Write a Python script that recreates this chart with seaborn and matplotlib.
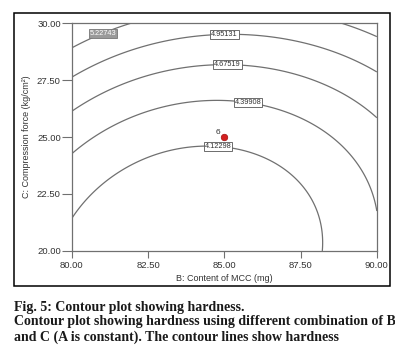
import numpy as np
import pandas as pd
import seaborn as sns
from matplotlib import pyplot as plt
from matplotlib.patches import Rectangle

# contour levels (hardness) as printed on the plot
levels = [4.12298, 4.39908, 4.67519, 4.95131, 5.22743]

# points: B (mg), C (kg/cm2), hardness
pts_b = [80.0, 83.2, 84.7, 86.8, 88.03, 88.2,
         80.0, 81.3, 83.2, 85.8, 86.8, 88.3, 88.85, 89.54, 90.0,
         80.0, 83.2, 85.1, 86.8, 87.9, 90.0,
         80.0, 83.2, 85.0, 86.8, 87.9, 90.0,
         80.0, 81.0, 82.07, 88.95, 89.5, 90.0]
pts_c = [21.45, 24.3, 24.6, 23.86, 21.93, 20.0,
         24.34, 25.3, 26.36, 26.7, 26.27, 25.31, 24.65, 23.1, 22.0,
         26.18, 27.94, 28.35, 28.03, 27.06, 25.96,
         27.63, 29.15, 29.6, 29.25, 28.9, 27.94,
         28.9, 29.6, 30.0, 30.0, 29.7, 29.39]
pts_h = [levels[0]] * 6 + [levels[1]] * 9 + [levels[2]] * 6 + [levels[3]] * 6 + [levels[4]] * 6

# label positions for the contour values
label_b = [81.0, 85.0, 85.1, 85.8, 84.8]
label_c = [29.62, 29.7, 28.35, 26.7, 24.72]

# design point
point_b = [85.0]
point_c = [25.0]
point_name = ["6"]

b_ticks = [80.0, 82.5, 85.0, 87.5, 90.0]
c_ticks = [20.0, 22.5, 25.0, 27.5, 30.0]


def terms(x, y):
    return [np.ones_like(x), x, y, x * x, y * y, x * y,
            x * y * y, x * x * y, x ** 3, y ** 3]


# cubic response surface fitted to the read contour points (coded units)
df = pd.DataFrame({"B": pts_b, "C": pts_c, "H": pts_h})
x = (df["B"].to_numpy() - 85) / 5
y = (df["C"].to_numpy() - 25) / 5
coef, *_ = np.linalg.lstsq(np.column_stack(terms(x, y)), df["H"].to_numpy(), rcond=None)

bb, cc = np.meshgrid(np.linspace(80, 90, 300), np.linspace(20, 30, 300))
hh = sum(k * t for k, t in zip(coef, terms((bb - 85) / 5, (cc - 25) / 5)))

sns.set_style("white")
plt.rcParams["font.family"] = ["Liberation Sans", "DejaVu Sans"]

fig = plt.figure(figsize=(3.95, 3.5), dpi=100)
ax = fig.add_axes([0.182, 0.283, 0.772, 0.651])

gray = "#707070"
cs = ax.contour(bb, cc, hh, levels=levels, colors=gray, linewidths=0.9)
texts = ax.clabel(cs, levels, fmt="%.5f", inline=False, fontsize=5.3,
                  manual=list(zip(label_b, label_c)))
for t in texts:
    t.set_rotation(0)
    t.set_color("#333333")
    t.set_bbox(dict(boxstyle="square,pad=0.12", facecolor="white", edgecolor="#555555", linewidth=0.6))
    if t.get_text() == "5.22743":
        t.set_color("white")
        t.set_bbox(dict(boxstyle="square,pad=0.12", facecolor="#9a9a9a", edgecolor="#777777", linewidth=0.6))

sns.scatterplot(x=point_b, y=point_c, ax=ax, color="#d42020", s=22, edgecolor="#a01010", linewidth=0.5, zorder=5)
for b, c, n in zip(point_b, point_c, point_name):
    ax.text(b - 0.15, c + 0.05, n, ha="right", va="bottom", fontsize=6, color="#333333")

ax.set_xlim(80, 90)
ax.set_ylim(20, 30)
ax.set_xticks(b_ticks)
ax.set_yticks(c_ticks)
ax.set_xticklabels([f"{v:.2f}" for v in b_ticks])
ax.set_yticklabels([f"{v:.2f}" for v in c_ticks])
ax.tick_params(axis="x", direction="out", length=5, width=0.8, color=gray, labelsize=6.8, labelcolor="#333333", pad=2, bottom=True)
ax.tick_params(axis="y", direction="out", length=7, width=0.8, color=gray, labelsize=6.8, labelcolor="#333333", pad=1, left=True)
for s in ax.spines.values():
    s.set_color(gray)
    s.set_linewidth(0.9)
ax.set_xlabel("B: Content of MCC (mg)", fontsize=6.5, color="#333333", labelpad=3)
ax.set_ylabel("C: Compression force (kg/cm\u00b2)", fontsize=6.5, color="#333333", labelpad=4)

# frame around the panel
fig.patches.append(Rectangle((14 / 395, 1 - 286 / 350), 376 / 395, 273 / 350,
                             transform=fig.transFigure, fill=False, edgecolor="black", linewidth=1.1))

cap = dict(fontsize=10, fontweight="bold", family=["Liberation Serif", "DejaVu Serif"], color="#1a1a1a", va="center")
fig.text(14 / 395, 1 - 307 / 350, "Fig. 5: Contour plot showing hardness.", **cap)
fig.text(14 / 395, 1 - 322 / 350, "Contour plot showing hardness using different combination of B", **cap)
fig.text(14 / 395, 1 - 337 / 350, "and C (A is constant). The contour lines show hardness", **cap)

fig.savefig("out.png", dpi=100)
